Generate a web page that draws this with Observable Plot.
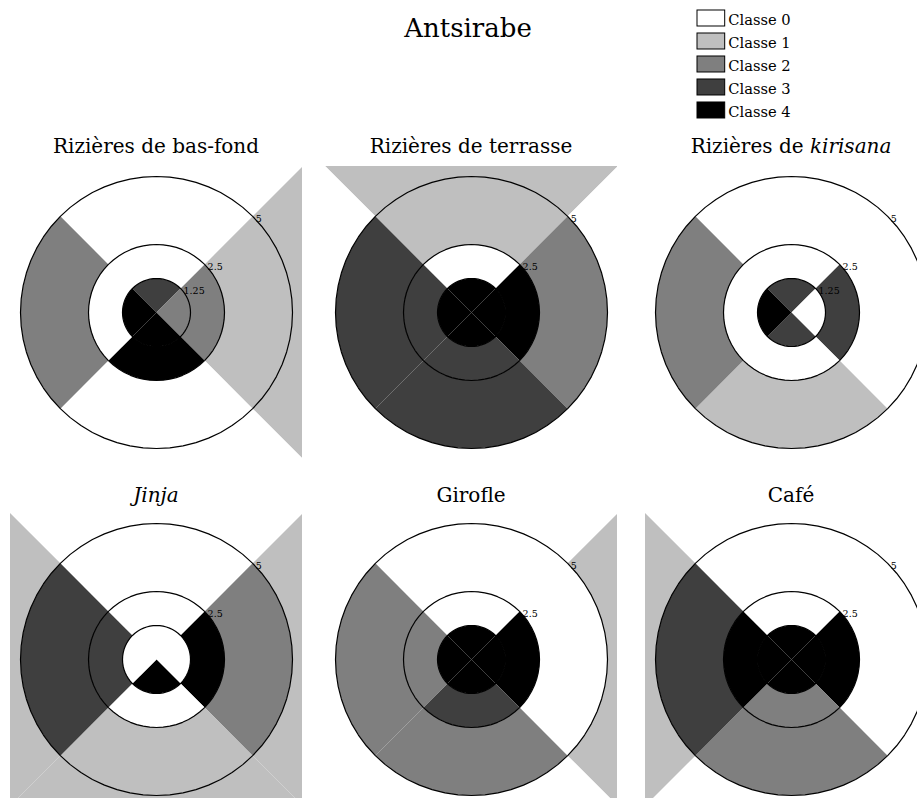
<!DOCTYPE html>
<html>
<head>
<meta charset="utf-8">
<script src="https://cdn.jsdelivr.net/npm/d3@7"></script>
<script src="https://cdn.jsdelivr.net/npm/@observablehq/plot@0.6"></script>
<style>
  html, body { margin: 0; padding: 0; background: #fff; overflow: hidden; }
  #fig { position: relative; width: 917px; height: 798px; overflow: hidden; background: #fff; font-family: "DejaVu Serif", serif; }
  .abs { position: absolute; }
  #texts { position: absolute; left: 0; top: 0; pointer-events: none; }
</style>
</head>
<body>
<div id="fig"></div>
<script>
// ---------- DATA ----------
const mainTitle = "Antsirabe";
// title segments: [text, italic]
const titleBasFond  = [["Rizières de bas-fond", false]];
const titleTerrasse = [["Rizières de terrasse", false]];
const titleKirisana = [["Rizières de ", false], ["kirisana", true]];
const titleJinja    = [["Jinja", true]];
const titleGirofle  = [["Girofle", false]];
const titleCafe     = [["Café", false]];

const classLabels = ["Classe 0", "Classe 1", "Classe 2", "Classe 3", "Classe 4"];
const classIds = [0, 1, 2, 3, 4];

// sectors (quadrants) and their central direction in degrees
const sectors = ["haut", "droite", "bas", "gauche"];
const sectorAngles = [90, 0, 270, 180];

// radial bands: 0–1.25, 1.25–2.5, 2.5–5, 5 and beyond
const ringBreaks = [0, 1.25, 2.5, 5, 8];
const gridTicks = [1.25, 2.5, 5];

// class per sector (haut, droite, bas, gauche) and band (inner -> outer)
const basFond  = [[3,0,0,0],[2,2,1,1],[4,4,0,0],[4,0,2,0]];
const terrasse = [[4,0,1,1],[4,4,2,0],[4,3,3,0],[4,3,3,0]];
const kirisana = [[3,0,0,0],[0,3,0,0],[3,0,1,0],[4,0,2,0]];
const jinja    = [[0,0,0,0],[0,4,2,1],[4,0,1,1],[0,3,3,1]];
const girofle  = [[4,0,0,0],[4,4,0,1],[4,3,2,0],[4,2,2,0]];
const cafe     = [[4,0,0,0],[4,4,0,0],[4,2,2,0],[4,4,3,1]];

// ---------- STYLE / LAYOUT ----------
const classColors = ["#ffffff", "#bfbfbf", "#7f7f7f", "#3f3f3f", "#000000"];
const FONT = "DejaVu Serif";
const PANEL = 292;            // panel square size (px)
const R = 5 * 146 / 136;      // half-extent of the panel in data units
const colCenters = [156, 471, 791];
const rowCenters = [312, 659];
const titleBaselines = [153.3, 501.7];
const SEG = 16;               // segments per quarter arc

const panels = [
  {title: titleBasFond,  data: basFond,  col: 0, row: 0},
  {title: titleTerrasse, data: terrasse, col: 1, row: 0},
  {title: titleKirisana, data: kirisana, col: 2, row: 0},
  {title: titleJinja,    data: jinja,    col: 0, row: 1},
  {title: titleGirofle,  data: girofle,  col: 1, row: 1},
  {title: titleCafe,     data: cafe,     col: 2, row: 1}
];

const rad = d => d * Math.PI / 180;

function cellVertices(table) {
  const out = [];
  table.forEach((bands, s) => {
    const c = sectorAngles[s], a0 = c - 45, a1 = c + 45;
    bands.forEach((cls, k) => {
      const r0 = ringBreaks[k], r1 = ringBreaks[k + 1];
      const id = sectors[s] + "-" + k;
      for (let i = 0; i <= SEG; i++) {
        const a = rad(a0 + (a1 - a0) * i / SEG);
        out.push({id, cls, x: r1 * Math.cos(a), y: r1 * Math.sin(a)});
      }
      if (r0 === 0) out.push({id, cls, x: 0, y: 0});
      else for (let i = SEG; i >= 0; i--) {
        const a = rad(a0 + (a1 - a0) * i / SEG);
        out.push({id, cls, x: r0 * Math.cos(a), y: r0 * Math.sin(a)});
      }
    });
  });
  return out;
}

function circleVertices() {
  const out = [];
  for (const r of gridTicks) {
    for (let i = 0; i < SEG * 4; i++) {
      const a = 2 * Math.PI * i / (SEG * 4);
      out.push({r, x: r * Math.cos(a), y: r * Math.sin(a)});
    }
  }
  return out;
}

const fig = document.getElementById("fig");
const colorScale = {type: "ordinal", domain: classIds, range: classColors};

for (const p of panels) {
  const cx = colCenters[p.col], cy = rowCenters[p.row];
  const plot = Plot.plot({
    width: PANEL, height: PANEL, margin: 0,
    x: {domain: [-R, R], axis: null},
    y: {domain: [-R, R], axis: null},
    color: colorScale,
    style: {background: "transparent", overflow: "visible"},
    marks: [
      Plot.line(cellVertices(p.data), {
        x: "x", y: "y", z: "id", fill: "cls", stroke: "none",
        curve: "linear-closed", clip: true
      }),
      Plot.line(circleVertices(), {
        x: "x", y: "y", z: "r", stroke: "#000", strokeWidth: 1.2,
        curve: "linear-closed"
      }),
      Plot.text(gridTicks, {
        x: d => d * Math.SQRT1_2, y: d => d * Math.SQRT1_2,
        text: d => String(d), textAnchor: "start", lineAnchor: "top",
        dx: 3, dy: -1, fontSize: 9.5, fontFamily: FONT, fill: "#000"
      })
    ]
  });
  plot.classList.add("abs");
  plot.style.left = (cx - PANEL / 2) + "px";
  plot.style.top = (cy - PANEL / 2) + "px";
  fig.appendChild(plot);
}

// ---------- LEGEND ----------
const legend = Plot.plot({
  width: 1 + 27.7 + 80, height: 112,
  marginLeft: 1, marginRight: 80, marginTop: 1, marginBottom: 1,
  x: {axis: null},
  y: {type: "band", domain: classLabels, paddingInner: 0.285, paddingOuter: 0, axis: null},
  color: colorScale,
  style: {background: "transparent", overflow: "visible"},
  marks: [
    Plot.cell(classLabels, {y: d => d, fill: (d, i) => classIds[i], stroke: "#000", strokeWidth: 1}),
    Plot.text(classLabels, {
      y: d => d, text: d => d, frameAnchor: "right", textAnchor: "start",
      dx: 3, dy: 2, fontSize: 14.7, fontFamily: FONT, fill: "#000"
    })
  ]
});
legend.classList.add("abs");
legend.style.left = "696.3px";
legend.style.top = "8px";
fig.appendChild(legend);

// ---------- TITLES ----------
const NS = "http://www.w3.org/2000/svg";
const svg = document.createElementNS(NS, "svg");
svg.setAttribute("id", "texts");
svg.setAttribute("width", 917);
svg.setAttribute("height", 798);
function addText(segments, x, y, size) {
  const t = document.createElementNS(NS, "text");
  t.setAttribute("x", x);
  t.setAttribute("y", y);
  t.setAttribute("text-anchor", "middle");
  t.setAttribute("font-family", FONT);
  t.setAttribute("font-size", size);
  t.setAttribute("fill", "#000");
  for (const [s, it] of segments) {
    const ts = document.createElementNS(NS, "tspan");
    ts.textContent = s;
    if (it) ts.setAttribute("font-style", "italic");
    t.appendChild(ts);
  }
  svg.appendChild(t);
}
addText([[mainTitle, false]], 468, 36.7, 26);
for (const p of panels) addText(p.title, colCenters[p.col], titleBaselines[p.row], 20);
fig.appendChild(svg);
</script>
</body>
</html>
